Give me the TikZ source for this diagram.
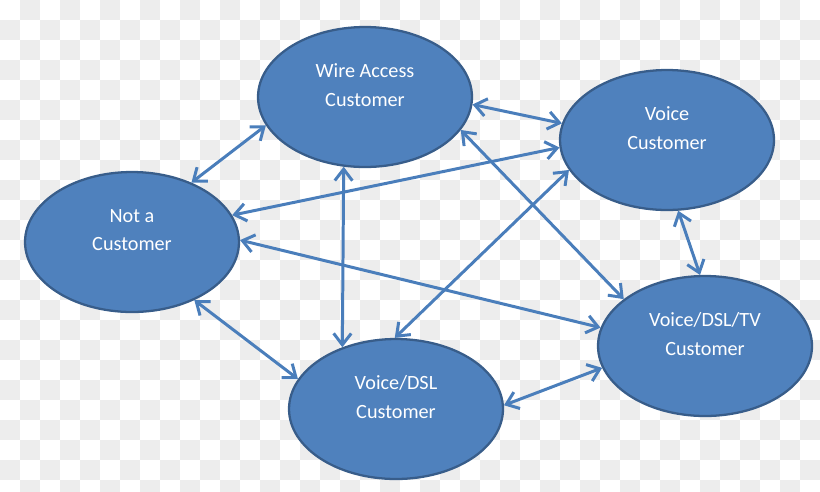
\documentclass[tikz,border=0pt]{standalone}
\usepackage{fontspec}
\setmainfont{Carlito}
\usepackage{xcolor}
\usepackage{tikz}
\usetikzlibrary{arrows.meta}
\usetikzlibrary{shapes}
\usetikzlibrary{shapes.geometric}

\definecolor{statefill}{HTML}{4F81BD}
\definecolor{stateline}{HTML}{385D8A}
\definecolor{linkblue}{HTML}{4A7EBB}
\definecolor{checkgray}{HTML}{EDEDED}

\begin{document}
\begin{tikzpicture}[x=0.02cm, y=-0.02cm,
  state/.style={ellipse, draw=stateline, line width=1.3pt, fill=statefill,
    minimum width=4.28cm, minimum height=2.8cm, inner sep=0pt,
    text=white, align=center, text depth=0.48cm,
    font=\fontsize{11.5}{16}\selectfont},
  link/.style={{Straight Barb[length=6.5pt,width=10pt]}-{Straight Barb[length=6.5pt,width=10pt]},
    draw=linkblue, line width=1.7pt}]
\useasboundingbox (0,0) rectangle (820,491);
% transparency checks behind the diagram
\begin{scope}
\clip (0,0) rectangle (820,491);
\foreach \x in {20,60,...,820}
  \foreach \y in {0,40,...,480}
    \fill [checkgray] (\x,\y) rectangle +(20,20);
\foreach \x in {0,40,...,800}
  \foreach \y in {20,60,...,480}
    \fill [checkgray] (\x,\y) rectangle +(20,20);
\end{scope}
\node [state] (WA) at (365, 97) {Wire Access\\Customer};
\node [state] (V) at (667, 140) {Voice\\Customer};
\node [state] (NC) at (132, 242) {Not a\\Customer};
\node [state] (VDT) at (705, 346) {Voice/DSL/TV\\Customer};
\node [state] (VD) at (396, 409) {Voice/DSL\\Customer};
\draw [link] (NC.45) to (WA.196);
\draw [link] (WA.356) to (V.171);
\draw [link] (NC.15) to (V.184);
\draw [link] (WA.341) to (VDT.150);
\draw [link] (WA.253) to (VD.131);
\draw [link] (V.197) to (VD.91);
\draw [link] (NC.1) to (VDT.170);
\draw [link] (NC.317) to (VD.163);
\draw [link] (V.279) to (VDT.94);
\draw [link] (VD.2) to (VDT.192);
\end{tikzpicture}
\end{document}
